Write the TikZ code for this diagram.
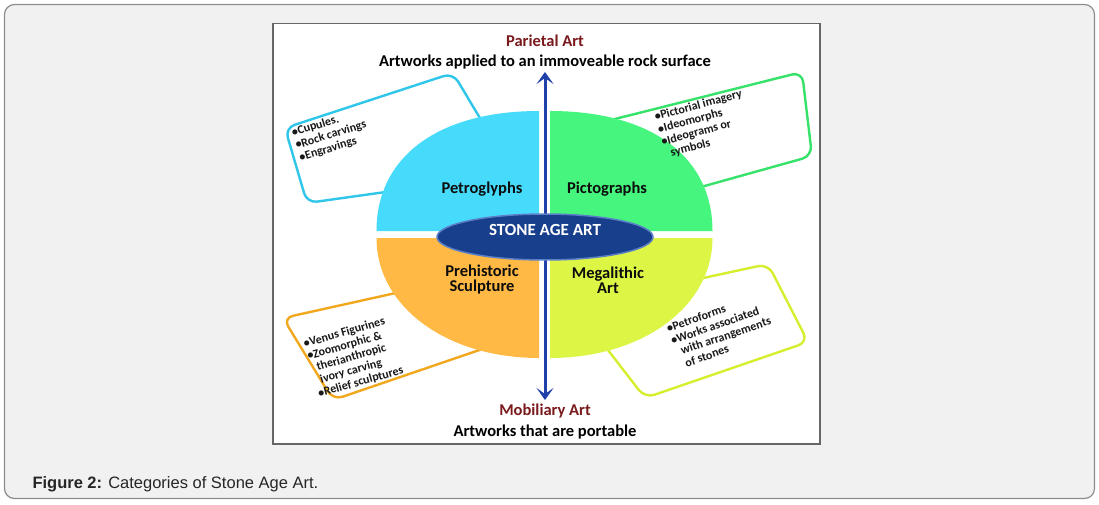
\documentclass[tikz,border=0pt]{standalone}
\usepackage{fontspec}
\setmainfont{Carlito}
\newfontfamily\capfont{Liberation Sans}
\usetikzlibrary{arrows.meta,shapes.geometric,positioning}
\definecolor{qCyan}{HTML}{46DBFA}
\definecolor{qGreen}{HTML}{45F57D}
\definecolor{qOrange}{HTML}{FFB944}
\definecolor{qLime}{HTML}{DDF544}
\definecolor{bCyan}{HTML}{2FC6EA}
\definecolor{bGreen}{HTML}{36E269}
\definecolor{bOrange}{HTML}{F2A81E}
\definecolor{bLime}{HTML}{D6EE2E}
\definecolor{aBlue}{HTML}{1F3FAA}
\definecolor{coreBlue}{HTML}{183F8C}
\definecolor{coreRim}{HTML}{5C80C8}
\definecolor{tRed}{HTML}{7A1A1C}
\definecolor{panel}{HTML}{F1F1F1}
\tikzset{
  every picture/.style={line width=1pt},
  sHead/.style={font=\bfseries\fontsize{16.5}{19}\selectfont, text=tRed, inner sep=0pt},
  sSub/.style={font=\bfseries\fontsize{16.5}{19}\selectfont, text=black, inner sep=0pt},
  sQuad/.style={font=\bfseries\fontsize{16.5}{15}\selectfont, align=center, text=black!95},
  sBox/.style={draw=#1, fill=white, line width=2.4pt, rounded corners=10pt, line join=round},
  sNote/.style={font=\bfseries\fontsize{12}{13}\selectfont, align=left,
                anchor=north west, inner sep=0pt, text=black!90},
  sCore/.style={ellipse, fill=coreBlue, draw=coreRim, line width=1.5pt,
                minimum width=216pt, minimum height=46pt, inner sep=0pt},
  sAxis/.style={aBlue, line width=3pt,
                {Stealth[length=12pt,width=17pt,inset=6pt]}-{Stealth[length=12pt,width=17pt,inset=6pt]}},
}

\begin{document}
\begin{tikzpicture}[x=1pt,y=-1pt]
  \useasboundingbox (0,0) rectangle (1099,505);
  \draw[fill=panel, draw=black!45, line width=1.2pt, rounded corners=10pt] (4.5,4.5) rectangle (1094.5,498.5);
  \draw[fill=white, draw=black!60, line width=1.5pt] (273,23.5) rectangle (820,444);

  % callout frames, tucked behind the quadrants
  \draw[sBox=bCyan] (285,128) -- (453,73) -- (505,160) -- (400,190) -- (307,203) -- cycle;
  \draw[sBox=bGreen] (603,122) -- (802,72) -- (812,156) -- (640,204) -- cycle;
  \draw[sBox=bOrange] (283,318) -- (450,281) -- (500,343) -- (333,400) -- cycle;
  \draw[sBox=bLime] (574,306) -- (768,264) -- (808,342) -- (645,398) -- cycle;

  % four quadrants (upper ones a little fuller)
  \foreach \cx/\cy/\sx/\sy/\k/\col in {539/231/-1/-1/0.62/qCyan, 550/231/1/-1/0.62/qGreen,
                                       539/238/-1/1/0.57/qOrange, 550/238/1/1/0.57/qLime}
    \fill[\col] (\cx,\cy) -- (\cx+\sx*162.5,\cy)
      .. controls (\cx+\sx*162.5,\cy+\sy*\k*120) and (\cx+\sx*\k*162.5,\cy+\sy*120) .. (\cx,\cy+\sy*120) -- cycle;

  \coordinate (axTop) at (545,72);
  \coordinate (axBot) at (545,400);
  \draw[sAxis] (axTop) -- (axBot);

  \node[sCore] (core) at (545,237) {};
  \node[font=\bfseries\fontsize{17}{18}\selectfont, text=white] (coreLbl) at (545,230) {STONE AGE ART};

  \node[sQuad] (petro) at (482,189) {Petroglyphs};
  \node[sQuad] (picto) at (607,189) {Pictographs};
  \node[sQuad] (prehist) at (482,280) {Prehistoric\\Sculpture};
  \node[sQuad] (mega) at (608,280) {Megalithic\\Art};

  \node[sNote, rotate=17] (noteCyan) at (290,128) {•Cupules.\\•Rock carvings\\•Engravings};
  \node[sNote, rotate=15] (noteGreen) at (653,112) {•Pictorial imagery\\•Ideomorphs\\•Ideograms or\\\phantom{•}symbols};
  \node[sNote, rotate=16] (noteOrange) at (302,339) {•Venus Figurines\\•Zoomorphic \&\\\phantom{•}therianthropic\\\phantom{•}ivory carving\\•Relief sculptures};
  \node[sNote, rotate=19] (noteLime) at (665,324) {•Petroforms\\•Works associated\\\phantom{•}with arrangements\\\phantom{•}of stones};

  \node[sHead] (parietal) at (545,41) {Parietal Art};
  \node[sSub] (parietalSub) at (545,62) {Artworks applied to an immoveable rock surface};
  \node[sHead] (mobil) at (545,411) {Mobiliary Art};
  \node[sSub] (mobilSub) at (545,432) {Artworks that are portable};

  \node[anchor=base west, inner sep=0pt, text=black!85,
        font=\capfont\fontsize{16.5}{18}\selectfont] (caption) at (32,488)
        {\textbf{Figure 2:} Categories of Stone Age Art.};
\end{tikzpicture}
\end{document}
